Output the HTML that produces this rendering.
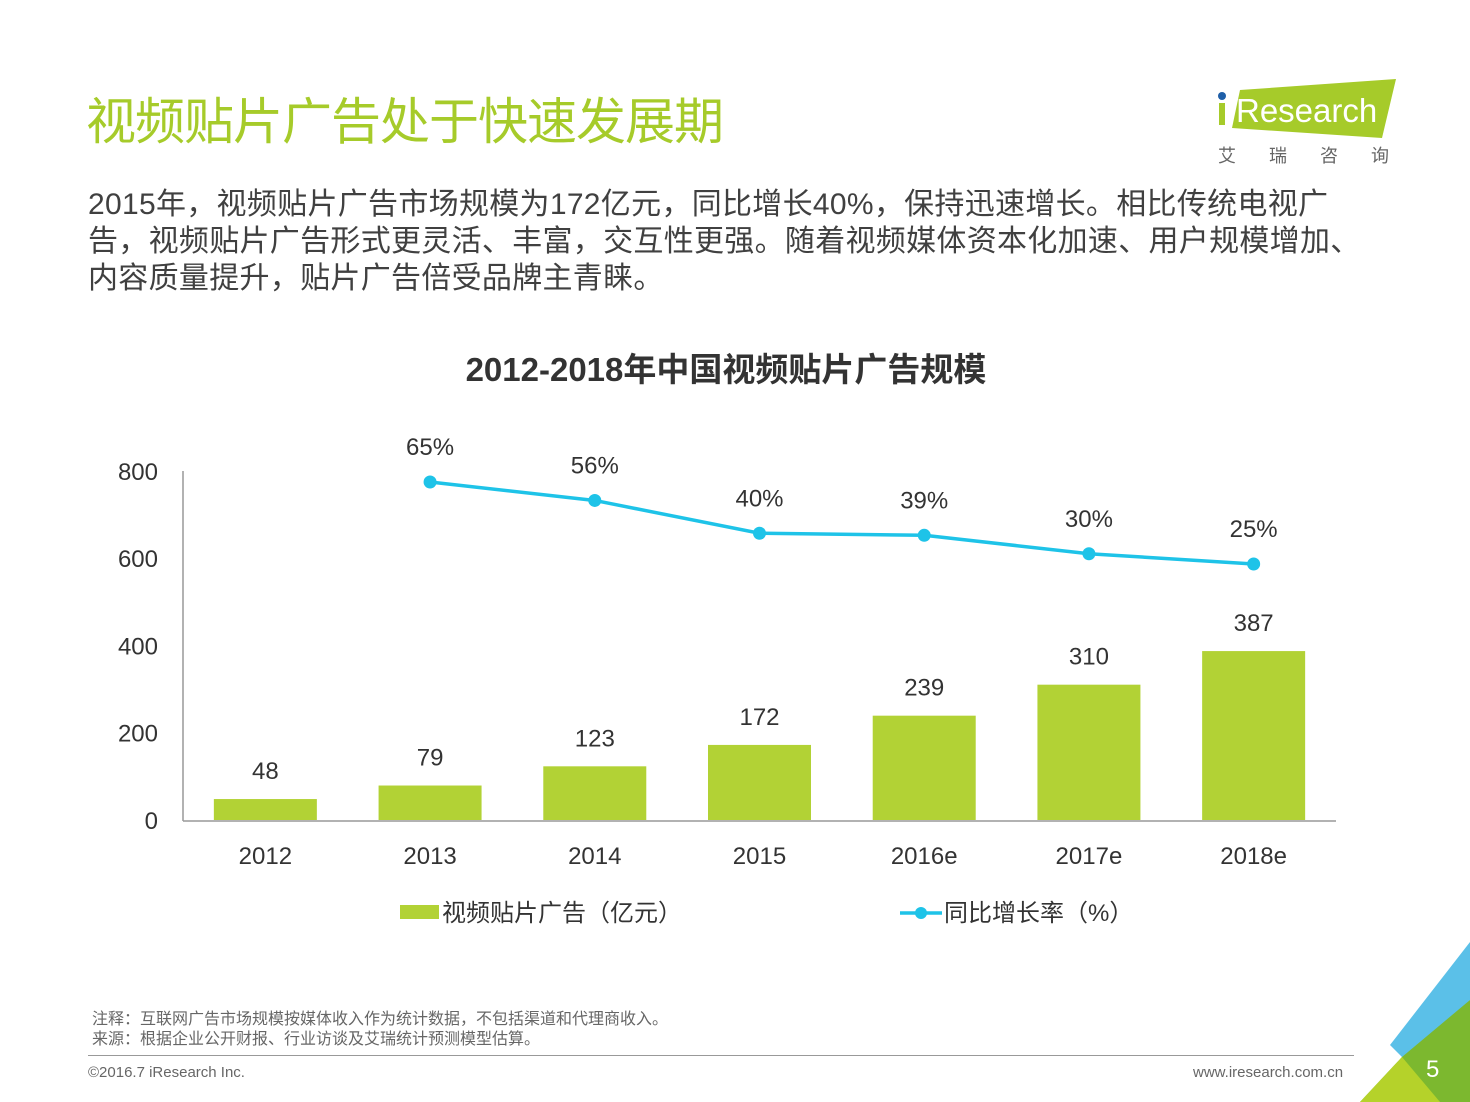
<!DOCTYPE html>
<html><head><meta charset="utf-8">
<style>
body{margin:0;width:1470px;height:1102px;background:#fff;position:relative;overflow:hidden;font-family:"Liberation Sans","Noto Sans CJK SC",sans-serif;}
.abs{position:absolute;white-space:nowrap;}
</style></head>
<body>
<div class="abs" style="left:86px;top:82px;font-size:50px;color:#a6cb2a;letter-spacing:-1px;">视频贴片广告处于快速发展期</div>
<svg class="abs" style="left:1210px;top:76px" width="200" height="95">
<polygon points="30,14 186,3 172,62 22,52" fill="#a6cb2a"/>
<circle cx="12" cy="20" r="4" fill="#1f5fa8"/>
<rect x="9" y="27" width="6" height="22" fill="#a6cb2a"/>
<text x="26" y="46" font-size="33" fill="#fff" font-family="Liberation Sans, sans-serif">Research</text>
<text x="8" y="86" font-size="18" fill="#666" font-family="Noto Sans CJK SC, sans-serif" letter-spacing="33">艾瑞咨询</text>
</svg>
<div class="abs" style="left:88px;top:186px;font-size:30px;line-height:37px;color:#404040;letter-spacing:0.3px;">2015年，视频贴片广告市场规模为172亿元，同比增长40%，保持迅速增长。相比传统电视广<br>告，视频贴片广告形式更灵活、丰富，交互性更强。随着视频媒体资本化加速、用户规模增加、<br>内容质量提升，贴片广告倍受品牌主青睐。</div>
<div class="abs" style="left:0;width:1452px;text-align:center;top:343px;font-size:33px;font-weight:bold;color:#333;">2012-2018年中国视频贴片广告规模</div>
<svg id="chart" class="abs" style="left:0;top:0" width="1470" height="1102"></svg>
<div class="abs" style="left:92px;top:1010px;font-size:16px;line-height:20px;color:#666;">注释：互联网广告市场规模按媒体收入作为统计数据，不包括渠道和代理商收入。<br>来源：根据企业公开财报、行业访谈及艾瑞统计预测模型估算。</div>
<div class="abs" style="left:88px;top:1055px;width:1266px;height:1px;background:#999;"></div>
<div class="abs" style="left:88px;top:1064px;font-size:15px;color:#666;">©2016.7 iResearch Inc.</div>
<div class="abs" style="left:1193px;top:1064px;font-size:15px;color:#666;">www.iresearch.com.cn</div>
<svg class="abs" style="left:1340px;top:930px" width="130" height="172">
<polygon points="50,115 130,12 130,70 75,140" fill="#5bc0e8"/>
<polygon points="62,127 130,70 130,172 20,172" fill="#7cb82f"/>
<polygon points="62,127 100,172 20,172" fill="#b5d22a"/>
</svg>
<div class="abs" style="left:1426px;top:1056px;font-size:24px;color:#fff;">5</div>
<script>
const categories=["2012","2013","2014","2015","2016e","2017e","2018e"];
const adValues=[48,79,123,172,239,310,387];
const growthValues=[null,65,56,40,39,30,25];
const growthLabels=["","65%","56%","40%","39%","30%","25%"];
const yTicks=[0,200,400,600,800];
const NS="http://www.w3.org/2000/svg";
const svg=document.getElementById('chart');
const x0=183,x1=1336,band=(x1-x0)/categories.length;
const xC=i=>x0+band*(i+0.5);
const yS=v=>820-v*0.4365;
const yR=v=>615.25-v*2.05;
function mk(t,a,txt){const e=document.createElementNS(NS,t);for(const k in a)e.setAttribute(k,a[k]);if(txt!==undefined)e.textContent=txt;svg.appendChild(e);return e;}
const font="Liberation Sans, Noto Sans CJK SC, sans-serif";
let e=mk('line',{x1:x0,y1:471,x2:x0,y2:821,stroke:'#999','stroke-width':1.5});


e=mk('line',{x1:x0,y1:821,x2:x1,y2:821,stroke:'#999','stroke-width':1.5});


yTicks.forEach(v=>{e=mk('text',{x:158,y:yS(v)+9,'text-anchor':'end','font-size':24,fill:'#333','font-family':font},v);

});
categories.forEach((c,i)=>{
 const bw=103,h=adValues[i]*0.4365;
 e=mk('rect',{x:xC(i)-bw/2,y:820-h,width:bw,height:h,fill:'#b2d235'});
 
 
 e=mk('text',{x:xC(i),y:yS(adValues[i])-20,'text-anchor':'middle','font-size':24,fill:'#333','font-family':font},adValues[i]);
 
 
 e=mk('text',{x:xC(i),y:864,'text-anchor':'middle','font-size':24,fill:'#333','font-family':font},c);
 
 
});
const pts=[];growthValues.forEach((v,i)=>{if(v!==null)pts.push([xC(i),yR(v),i]);});
e=mk('polyline',{points:pts.map(p=>p[0]+','+p[1]).join(' '),fill:'none',stroke:'#1ec3e8','stroke-width':3.5});


pts.forEach(p=>{
 e=mk('circle',{cx:p[0],cy:p[1],r:6.5,fill:'#1ec3e8'});
 
 
 e=mk('text',{x:p[0],y:p[1]-27,'text-anchor':'middle','font-size':24,fill:'#333','font-family':font},growthLabels[p[2]]);
 
 
});
e=mk('rect',{x:400,y:905,width:39,height:14,fill:'#b2d235'});


e=mk('text',{x:442,y:921,'font-size':24,fill:'#333','font-family':font},'视频贴片广告（亿元）');


e=mk('line',{x1:900,y1:913,x2:942,y2:913,stroke:'#1ec3e8','stroke-width':3.5});


e=mk('circle',{cx:921,cy:913,r:6,fill:'#1ec3e8'});


e=mk('text',{x:944,y:921,'font-size':24,fill:'#333','font-family':font},'同比增长率（%）');


</script>
</body></html>
